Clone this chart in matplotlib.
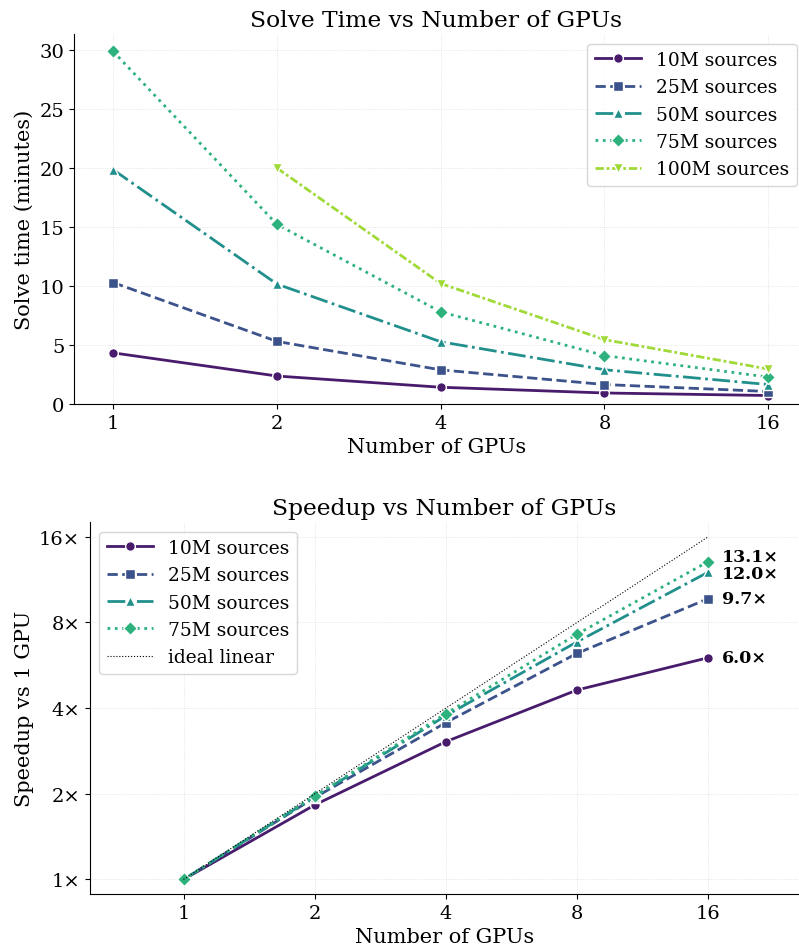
import matplotlib
matplotlib.use("Agg")
import matplotlib.pyplot as plt
from matplotlib.ticker import FixedLocator, FixedFormatter, NullLocator

plt.rcParams['font.family'] = ['DejaVu Serif']

gpus = [1, 2, 4, 8, 16]
labels = ['10M sources', '25M sources', '50M sources', '75M sources', '100M sources']

# solve time in minutes (None = not run)
t_10m = [4.33, 2.37, 1.42, 0.935, 0.72]
t_25m = [10.28, 5.3, 2.89, 1.65, 1.06]
t_50m = [19.83, 10.15, 5.27, 2.9, 1.65]
t_75m = [29.84, 15.2, 7.8, 4.1, 2.28]
t_100m = [None, 19.97, 10.2, 5.45, 2.96]

times = [t_10m, t_25m, t_50m, t_75m, t_100m]
colors = ['#481b6d', '#3b528b', '#21908d', '#2db27d', '#a0da39']
markers = ['o', 's', '^', 'D', 'v']
styles = ['-', '--', '-.', ':', (0, (3, 1, 1, 1))]

fig = plt.figure(figsize=(7.99, 9.53), dpi=100)
ax1 = fig.add_axes([0.0926, 0.575, 0.907, 0.388])
ax2 = fig.add_axes([0.1126, 0.061, 0.887, 0.390])

for t, lab, c, m, ls in zip(times, labels, colors, markers, styles):
    xs = [g for g, v in zip(gpus, t) if v is not None]
    ys = [v for v in t if v is not None]
    ax1.plot(xs, ys, linestyle=ls, color=c, marker=m, markersize=7, lw=2,
             markeredgecolor='white', markeredgewidth=1, label=lab)

ax1.set_xscale('log', base=2)
ax1.xaxis.set_major_locator(FixedLocator(gpus))
ax1.xaxis.set_major_formatter(FixedFormatter([str(g) for g in gpus]))
ax1.xaxis.set_minor_locator(NullLocator())
ax1.set_xlim(0.847, 18.2)
ax1.set_ylim(bottom=0)
ax1.set_xlabel('Number of GPUs', fontsize=15)
ax1.set_ylabel('Solve time (minutes)', fontsize=15)
ax1.set_title('Solve Time vs Number of GPUs', fontsize=16.8)
ax1.grid(True, linestyle=':', linewidth=0.6, color='#dddddd')
ax1.legend(fontsize=13.4, loc='upper right', bbox_to_anchor=(1.01, 1.0),
           handlelength=2.5)

# speedup relative to 1 GPU
nudge = [0, 0, -1, 4]
for t, lab, c, m, ls, dy in zip(times[:4], labels[:4], colors[:4], markers[:4], styles[:4], nudge):
    sp = [t[0] / v for v in t]
    ax2.plot(gpus, sp, linestyle=ls, color=c, marker=m, markersize=7, lw=2,
             markeredgecolor='white', markeredgewidth=1, label=lab)
    ax2.annotate(f'{sp[-1]:.1f}\u00d7', (gpus[-1], sp[-1]), xytext=(10, dy),
                 textcoords='offset points', va='center', ha='left',
                 fontsize=12.5, fontweight='bold')
ax2.plot(gpus, gpus, linestyle=':', color='black', lw=0.8, label='ideal linear')

ax2.set_xscale('log', base=2)
ax2.set_yscale('log', base=2)
ax2.xaxis.set_major_locator(FixedLocator(gpus))
ax2.xaxis.set_major_formatter(FixedFormatter([str(g) for g in gpus]))
ax2.xaxis.set_minor_locator(NullLocator())
ax2.yaxis.set_major_locator(FixedLocator([1, 2, 4, 8, 16]))
ax2.yaxis.set_major_formatter(FixedFormatter(['1\u00d7', '2\u00d7', '4\u00d7', '8\u00d7', '16\u00d7']))
ax2.yaxis.set_minor_locator(NullLocator())
ax2.set_xlim(0.61, 25.8)
ax2.set_ylim(0.89, 18)
ax2.set_xlabel('Number of GPUs', fontsize=15)
ax2.set_ylabel('Speedup vs 1 GPU', fontsize=15)
ax2.set_title('Speedup vs Number of GPUs', fontsize=16.8)
ax2.grid(True, linestyle=':', linewidth=0.6, color='#dddddd')
ax2.legend(fontsize=13.4, loc='upper left', handlelength=2.5)

for ax in (ax1, ax2):
    ax.spines['top'].set_visible(False)
    ax.spines['right'].set_visible(False)
    ax.tick_params(labelsize=14)

fig.savefig('out.png', dpi=100)
